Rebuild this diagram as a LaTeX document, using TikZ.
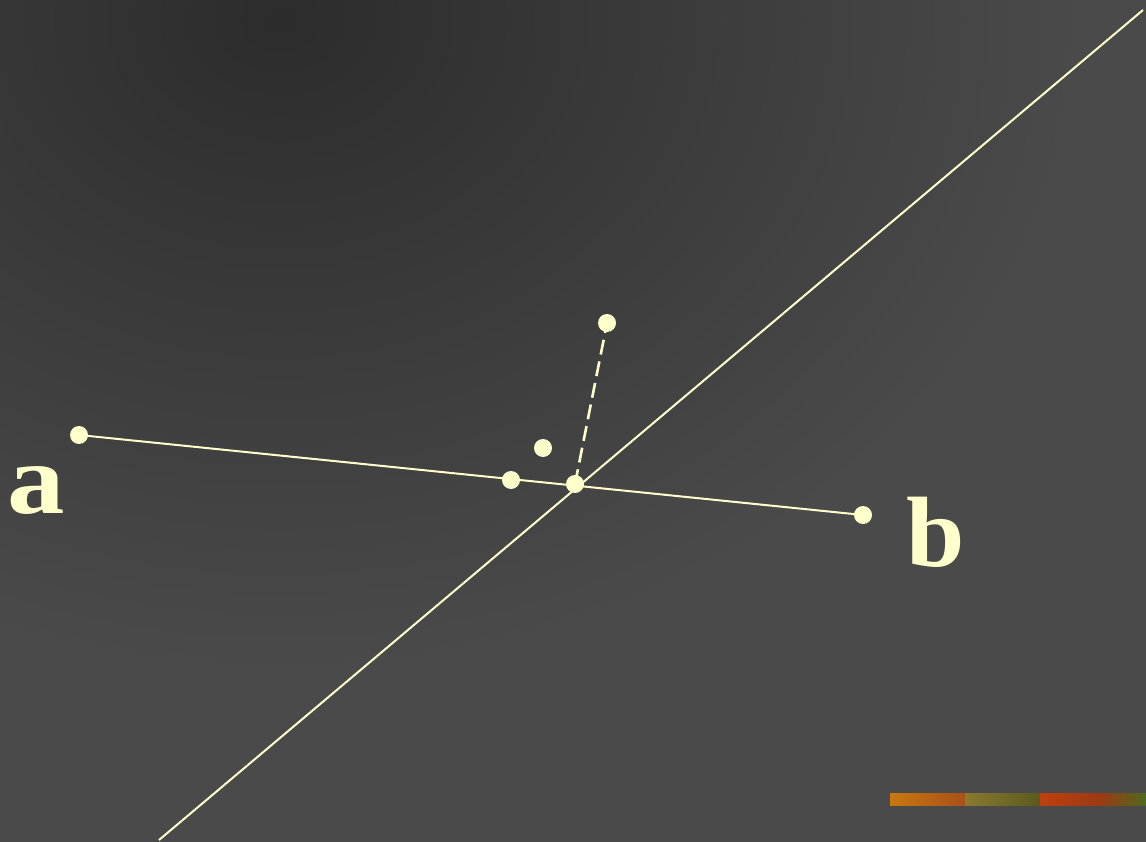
\documentclass[tikz,border=0pt]{standalone}
\usepackage{fontspec}
\setmainfont{Liberation Serif}
\definecolor{bg}{HTML}{4A4A4A}
\definecolor{bgdark}{HTML}{2C2C2C}
\definecolor{ink}{HTML}{FFFFCC}
\definecolor{sA}{HTML}{C8780E}
\definecolor{sB}{HTML}{A8501A}
\definecolor{sC}{HTML}{8A7A30}
\definecolor{sD}{HTML}{5A5A20}
\definecolor{sE}{HTML}{C0400E}
\definecolor{sF}{HTML}{9A3A14}
\definecolor{sG}{HTML}{4E6A1E}
\begin{document}
\begin{tikzpicture}[x=1pt,y=-1pt,
  dotpt/.style={circle,fill=ink,inner sep=0pt,minimum size=18pt},
  thinline/.style={draw=ink,line width=2pt},
  dashline/.style={draw=ink,line width=2.6pt,dash pattern=on 15pt off 7pt},
  lbl/.style={text=ink,font=\fontsize{100}{100}\selectfont\bfseries,inner sep=0pt}]
\useasboundingbox (0,0) rectangle (1146,842);
\fill[bg] (0,0) rectangle (1146,842);
\begin{scope}
\clip (0,0) rectangle (1146,842);
\shade[inner color=bgdark,outer color=bg] (280,20) ellipse (800 and 650);
\end{scope}
% colour strip
\shade[left color=sA,right color=sB] (890,793) rectangle (965,805);
\shade[left color=sC,right color=sD] (965,793) rectangle (1040,805);
\shade[left color=sE,right color=sF] (1040,793) rectangle (1100,805);
\shade[left color=sF,right color=sG] (1100,793) rectangle (1146,805);
% coordinates
\coordinate (a) at (79,435);
\coordinate (b) at (863,515);
\coordinate (p) at (511,480);
\coordinate (q) at (575,484);
\coordinate (r) at (607,323);
\coordinate (s) at (543,448);
\coordinate (lo) at (159,840);
\coordinate (hi) at (1143,10);
% lines
\draw[thinline] (lo) -- (hi);
\draw[thinline] (a) -- (b);
\draw[dashline] (q) -- (r);
% dots
\node[dotpt] (da) at (a) {};
\node[dotpt] (db) at (b) {};
\node[dotpt] (dp) at (p) {};
\node[dotpt] (dq) at (q) {};
\node[dotpt] (dr) at (r) {};
\node[dotpt] (ds) at (s) {};
% labels
\node[lbl,anchor=base,xscale=1.15] (la) at (36,513) {a};
\node[lbl,anchor=base,xscale=1.05] (lb) at (936,566) {b};
\end{tikzpicture}
\end{document}
